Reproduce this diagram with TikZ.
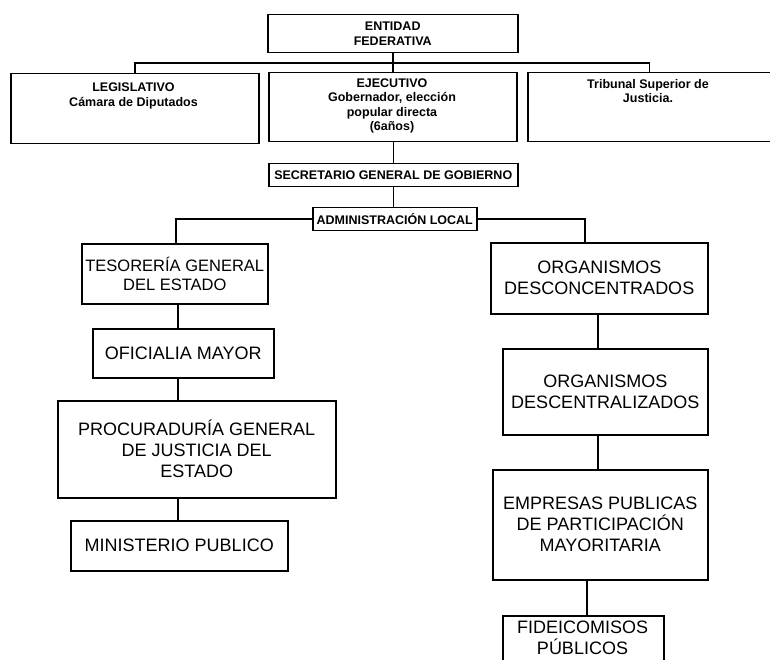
\documentclass[tikz,border=0pt]{standalone}
\usepackage{fontspec}
\setmainfont{Liberation Sans}
\begin{document}
\begin{tikzpicture}[x=1pt,y=-1pt,
  bx/.style={draw, line width=1.5pt, inner sep=0pt, anchor=north west},
  sm/.style={font=\fontsize{12.5}{14.5}\selectfont\bfseries, align=center, inner sep=0pt},
  lg/.style={font=\fontsize{18}{21}\selectfont, align=center, inner sep=0pt},
  lgs/.style={font=\fontsize{16.5}{19}\selectfont, align=center, inner sep=0pt},
  ln/.style={line width=1.5pt}]
\useasboundingbox (0,0) rectangle (770,660);
% top level
\node[bx, sm, minimum width=250pt, minimum height=38pt] (ent) at (267,14) {ENTIDAD\\FEDERATIVA};
\node[bx, minimum width=248pt, minimum height=70pt] (leg) at (10,73) {};
\node[sm, anchor=north] (legt) at (133.5,83) {LEGISLATIVO\\Cámara de Diputados};
\node[bx, minimum width=248pt, minimum height=69pt] (eje) at (268,72) {};
\node[sm] (ejet) at (392,106) {EJECUTIVO\\Gobernador, elección\\popular directa\\(6años)};
\node[bx, minimum width=243pt, minimum height=69pt] (tri) at (527,72) {};
\node[sm, anchor=north] (trit) at (648,79) {Tribunal Superior de\\Justicia.};
\node[bx, sm, minimum width=249pt, minimum height=23pt] (sec) at (268,163) {SECRETARIO GENERAL DE GOBIERNO};
\node[bx, sm, minimum width=164pt, minimum height=23pt] (adm) at (312,207) {ADMINISTRACIÓN LOCAL};
% left column
\node[bx, lgs, minimum width=186pt, minimum height=60pt] (tes) at (81,243) {TESORERÍA GENERAL\\DEL ESTADO};
\node[bx, lg, minimum width=181pt, minimum height=49pt] (ofi) at (92,328) {OFICIALIA MAYOR};
\node[bx, lg, minimum width=278pt, minimum height=97pt] (pro) at (57,400) {PROCURADURÍA GENERAL\\DE JUSTICIA DEL\\ESTADO};
\node[bx, lg, minimum width=217pt, minimum height=50pt] (min) at (70,520) {MINISTERIO PUBLICO};
% right column
\node[bx, lg, minimum width=217pt, minimum height=71pt] (odc) at (490,242) {ORGANISMOS\\DESCONCENTRADOS};
\node[bx, lg, minimum width=205pt, minimum height=86pt] (odz) at (502,348) {ORGANISMOS\\DESCENTRALIZADOS};
\node[bx, lg, minimum width=215pt, minimum height=110pt] (emp) at (492,469) {EMPRESAS PUBLICAS\\DE PARTICIPACIÓN\\MAYORITARIA};
\node[bx, minimum width=161pt, minimum height=52pt] (fid) at (502,615) {};
\node[lg] (fidt) at (582.5,638) {FIDEICOMISOS\\PÚBLICOS};
% connector columns
\coordinate (lc) at (178,0);
\coordinate (la) at (176,0);
\coordinate (ra) at (585,0);
\coordinate (rb) at (598,0);
\coordinate (rc) at (587,0);
% connectors
\draw[ln] (leg.north) -- ++(0,-10) -| (tri.north);
\draw[ln] (ent.south) -- (ent.south |- eje.north);
\draw[ln] (sec.north |- eje.south) -- (sec.north);
\draw[ln] (sec.south) -- (sec.south |- adm.north);
\draw[ln] (adm.west) -| (tes.north -| la);
\draw[ln] (adm.east) -| (odc.north -| ra);
\draw[ln] (tes.south -| lc) -- (ofi.north -| lc);
\draw[ln] (ofi.south -| lc) -- (pro.north -| lc);
\draw[ln] (pro.south -| lc) -- (min.north -| lc);
\draw[ln] (odc.south -| rb) -- (odz.north -| rb);
\draw[ln] (odz.south -| rb) -- (emp.north -| rb);
\draw[ln] (emp.south -| rc) -- (fid.north -| rc);
\end{tikzpicture}
\end{document}
